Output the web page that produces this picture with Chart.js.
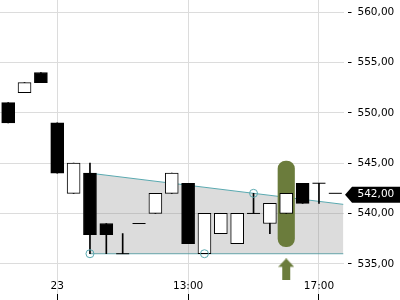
<!DOCTYPE html>
<html>
<head>
<meta charset="utf-8">
<style>
  html, body { margin: 0; padding: 0; background: #fff; }
  canvas { display: block; }
</style>
<script src="https://cdn.jsdelivr.net/npm/chart.js@4/dist/chart.umd.min.js"></script>
</head>
<body>
<canvas id="c" width="400" height="300"></canvas>
<script>
// ---- data ----
const candleIndex = [0,1,2,3,4,5,6,7,8,9,10,11,12,13,14,15,16,17,18,19,20];
const opens  = [551.0, 552.0, 554.0, 549.0, 542.0, 544.0, 539.0, 536.0, 539.0, 540.0, 542.0, 543.0, 536.0, 538.0, 537.0, 540.0, 539.0, 540.0, 543.0, 543.0, 542.0];
const highs  = [551.0, 553.0, 554.0, 549.0, 545.0, 545.0, 539.0, 538.0, 539.0, 542.0, 544.0, 543.0, 540.0, 540.0, 540.0, 542.0, 541.0, 542.0, 543.0, 543.0, 542.0];
const lows   = [549.0, 552.0, 553.0, 544.0, 542.0, 536.0, 536.0, 536.0, 539.0, 540.0, 542.0, 537.0, 536.0, 538.0, 537.0, 540.0, 538.0, 540.0, 541.0, 541.0, 542.0];
const closes = [549.0, 553.0, 553.0, 544.0, 545.0, 537.9, 537.9, 536.0, 539.0, 542.0, 544.0, 537.0, 540.0, 540.0, 540.0, 540.0, 541.0, 542.0, 541.0, 543.0, 542.0];

const xTickIndex  = [3, 11, 19];
const xTickLabels = ['23', '13:00', '17:00'];
const yTicks = [535, 540, 545, 550, 555, 560];

const upperTrend = [{x: 5, y: 544.0}, {x: 20.5, y: 540.9}];
const lowerTrend = [{x: 5, y: 536.0}, {x: 20.5, y: 536.0}];
const touchPoints = [{x: 5, y: 536.0}, {x: 12, y: 536.0}, {x: 15, y: 542.0}];

const signalIndex = 17;
const signalRange = [536.7, 545.2];
const signalArrowValue = 534.45;
const lastPrice = 542.0;

// ---- derived ----
const fmt = v => v.toFixed(2).replace('.', ',');
const wickData = candleIndex.filter(i => highs[i] > lows[i]).map(i => ({x: i, y: [lows[i], highs[i]]}));
const bodyIdx = candleIndex.filter(i => opens[i] !== closes[i]);
const bodyData = bodyIdx.map(i => ({x: i, y: [opens[i], closes[i]]}));
const bodyColors = bodyIdx.map(i => closes[i] > opens[i] ? '#ffffff' : '#000000');
const dojiData = candleIndex.filter(i => opens[i] === closes[i]).map(i => ({x: i, y: closes[i]}));

const GREEN = '#6b7c3c';
const TEAL = '#5aa9b0';

// arrow glyph
const arrow = document.createElement('canvas');
arrow.width = 16; arrow.height = 22;
(() => {
  const c = arrow.getContext('2d');
  c.fillStyle = GREEN;
  c.beginPath();
  c.moveTo(8, 0); c.lineTo(16, 8.5); c.lineTo(12, 8.5); c.lineTo(12, 22);
  c.lineTo(4, 22); c.lineTo(4, 8.5); c.lineTo(0, 8.5); c.closePath(); c.fill();
})();

const zeroPad = s => { s.paddingTop = 0; s.paddingBottom = 0; s.paddingLeft = 0; s.paddingRight = 0; };

const lastPricePlugin = {
  id: 'lastPrice',
  afterDraw(chart) {
    const ctx = chart.ctx;
    const ys = chart.scales.y;
    const y = ys.getPixelForValue(lastPrice) + 1.5;
    const x0 = chart.chartArea.right + 1.5;
    ctx.save();
    ctx.fillStyle = '#000';
    ctx.beginPath();
    ctx.moveTo(x0, y);
    ctx.lineTo(x0 + 7, y - 8);
    ctx.lineTo(chart.width, y - 8);
    ctx.lineTo(chart.width, y + 8);
    ctx.lineTo(x0 + 7, y + 8);
    ctx.closePath();
    ctx.fill();
    ctx.fillStyle = '#fff';
    ctx.font = '10.5px "DejaVu Sans"';
    ctx.textBaseline = 'middle';
    ctx.textAlign = 'left';
    ctx.fillText(fmt(lastPrice), ys.left + 14, y - 0.5);
    ctx.restore();
  }
};

new Chart(document.getElementById('c'), {
  type: 'bar',
  data: {
    datasets: [
      { type: 'line', data: upperTrend, borderColor: TEAL, borderWidth: 1, pointRadius: 0,
        fill: '+1', backgroundColor: 'rgba(140,140,140,0.3)', order: 10 },
      { type: 'line', data: lowerTrend, borderColor: TEAL, borderWidth: 1, pointRadius: 0,
        fill: false, order: 10 },
      { type: 'bar', data: [{x: signalIndex, y: signalRange}], backgroundColor: GREEN,
        barThickness: 16.5, borderRadius: 8, borderSkipped: false, grouped: false, order: 8 },
      { type: 'bar', data: wickData, backgroundColor: '#000', barThickness: 1, grouped: false, order: 6 },
      { type: 'bar', data: bodyData, backgroundColor: bodyColors, borderColor: '#000', borderWidth: 1,
        borderSkipped: false, barThickness: 13, grouped: false, order: 4 },
      { type: 'scatter', data: dojiData, pointStyle: 'line', radius: 6.5, borderColor: '#000',
        borderWidth: 1, order: 3 },
      { type: 'scatter', data: touchPoints, pointStyle: 'circle', radius: 4, borderColor: TEAL,
        backgroundColor: 'rgba(0,0,0,0)', borderWidth: 1, order: 2 },
      { type: 'scatter', data: [{x: signalIndex, y: signalArrowValue}], pointStyle: arrow, radius: 3, order: 1 }
    ]
  },
  options: {
    responsive: false,
    animation: false,
    devicePixelRatio: 1,
    layout: { padding: 0, autoPadding: false },
    plugins: { legend: { display: false }, tooltip: { enabled: false } },
    scales: {
      x: {
        type: 'linear', min: -0.5, max: 20.5, offset: false,
        afterBuildTicks: s => { s.ticks = xTickIndex.map(v => ({value: v})); },
        afterFit: s => { s.height = 6; zeroPad(s); },
        grid: { color: '#dcdcdc', offset: false, tickLength: 6, tickColor: '#000' },
        border: { display: false },
        ticks: {
          autoSkip: false, maxRotation: 0, mirror: true, padding: 1, color: '#000',
          font: { family: 'DejaVu Sans', size: 10.5 },
          callback: v => xTickLabels[xTickIndex.indexOf(v)]
        }
      },
      y: {
        position: 'right', min: 532.0, max: 561.2,
        afterBuildTicks: s => { s.ticks = yTicks.map(v => ({value: v})); },
        afterFit: s => { s.width = 56.5; zeroPad(s); },
        grid: { color: '#dcdcdc', tickLength: 8, tickColor: '#000', tickBorderDash: [0, 4, 4, 20] },
        border: { display: false },
        ticks: {
          padding: 6, color: '#000',
          font: { family: 'DejaVu Sans', size: 10.5 },
          callback: v => fmt(v)
        }
      }
    }
  },
  plugins: [lastPricePlugin]
});
</script>
</body>
</html>
